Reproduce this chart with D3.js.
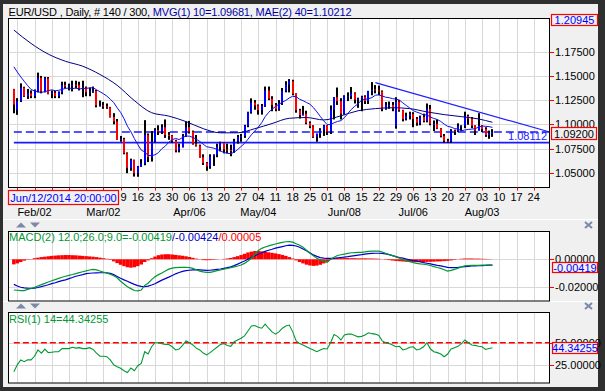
<!DOCTYPE html>
<html><head><meta charset="utf-8">
<script src="https://cdn.jsdelivr.net/npm/d3@7"></script>
<style>
body{margin:0;background:#fff}
svg{display:block}
text{font-family:"Liberation Sans",Arial,sans-serif;font-size:11px}
</style>
</head><body>
<svg id="c" width="605" height="391"></svg>
<script>
// ---------- DATA ----------
const opens  = [1.1363,1.1150,1.1240,1.1380,1.1290,1.1320,1.1290,1.1345,1.1480,1.1340,1.1475,1.1315,1.1325,1.1290,1.1330,1.1405,1.1390,1.1400,1.1410,1.1405,1.1370,1.1380,1.1330,1.1340,1.1345,1.1195,1.1195,1.1185,1.1175,1.1075,1.1030,1.0840,1.0850,1.0700,1.0550,1.0630,1.0495,1.0565,1.0595,1.0890,1.0660,1.0820,1.0940,1.0925,1.0970,1.0890,1.0885,1.0830,1.0730,1.0765,1.0880,1.0970,1.0925,1.0800,1.0780,1.0660,1.0600,1.0565,1.0670,1.0685,1.0765,1.0810,1.0740,1.0735,1.0725,1.0825,1.0870,1.0880,1.0985,1.1125,1.1225,1.1195,1.1145,1.1190,1.1350,1.1265,1.1200,1.1155,1.1215,1.1345,1.1410,1.1445,1.1315,1.1145,1.1095,1.1110,1.1015,1.0980,1.0870,1.0900,1.0940,1.0985,1.0925,1.1150,1.1280,1.1240,1.1110,1.1290,1.1290,1.1320,1.1255,1.1265,1.1285,1.1240,1.1345,1.1360,1.1350,1.1340,1.1160,1.1200,1.1200,1.0980,1.1235,1.1145,1.1055,1.1085,1.1105,1.1055,1.1015,1.1075,1.1035,1.1160,1.1005,1.1005,1.0955,1.0880,1.0830,1.0825,1.0935,1.0930,1.0980,1.0985,1.1085,1.1060,1.0985,1.0935,1.0985,1.0950,1.0890,1.0905];
const highs  = [1.1366,1.1270,1.1423,1.1388,1.1365,1.1350,1.1360,1.1534,1.1500,1.1490,1.1488,1.1350,1.1345,1.1340,1.1440,1.1440,1.1420,1.1450,1.1450,1.1440,1.1450,1.1390,1.1380,1.1390,1.1355,1.1245,1.1230,1.1215,1.1180,1.1115,1.1055,1.0880,1.0860,1.0710,1.0645,1.0635,1.0570,1.0640,1.1043,1.0905,1.0930,1.0960,1.0990,1.1000,1.1050,1.0920,1.0890,1.0840,1.0800,1.0900,1.1030,1.1035,1.0935,1.0890,1.0790,1.0690,1.0610,1.0690,1.0690,1.0800,1.0820,1.0815,1.0800,1.0790,1.0850,1.0890,1.0900,1.0995,1.1130,1.1268,1.1250,1.1205,1.1210,1.1390,1.1390,1.1290,1.1220,1.1250,1.1375,1.1445,1.1467,1.1460,1.1320,1.1160,1.1190,1.1140,1.1030,1.0990,1.0905,1.0960,1.0995,1.0990,1.1195,1.1280,1.1380,1.1270,1.1300,1.1330,1.1385,1.1330,1.1275,1.1295,1.1300,1.1345,1.1436,1.1405,1.1400,1.1350,1.1230,1.1235,1.1230,1.1280,1.1250,1.1150,1.1120,1.1130,1.1125,1.1075,1.1090,1.1110,1.1215,1.1200,1.1040,1.1050,1.0960,1.0900,1.0850,1.0950,1.0945,1.1010,1.0990,1.1130,1.1100,1.1075,1.0990,1.1115,1.0990,1.0970,1.0935,1.0950];
const lows   = [1.1114,1.1098,1.1230,1.1283,1.1262,1.1270,1.1270,1.1330,1.1320,1.1330,1.1310,1.1270,1.1270,1.1270,1.1310,1.1370,1.1350,1.1340,1.1370,1.1350,1.1280,1.1290,1.1290,1.1325,1.1175,1.1185,1.1160,1.1160,1.1070,1.1000,1.0840,1.0820,1.0690,1.0495,1.0520,1.0460,1.0458,1.0560,1.0577,1.0610,1.0615,1.0810,1.0890,1.0900,1.0860,1.0840,1.0810,1.0710,1.0710,1.0760,1.0870,1.0905,1.0790,1.0770,1.0655,1.0580,1.0520,1.0540,1.0570,1.0660,1.0720,1.0700,1.0700,1.0670,1.0705,1.0800,1.0820,1.0860,1.0970,1.1110,1.1150,1.1100,1.1100,1.1180,1.1250,1.1135,1.1135,1.1140,1.1200,1.1330,1.1330,1.1300,1.1120,1.1060,1.1090,1.1000,1.0960,1.0860,1.0820,1.0860,1.0880,1.0890,1.0900,1.1050,1.1200,1.1050,1.1100,1.1240,1.1260,1.1215,1.1170,1.1135,1.1210,1.1210,1.1300,1.1320,1.1300,1.1135,1.1150,1.1160,1.1135,1.0955,1.1130,1.1030,1.1040,1.1050,1.0970,1.0985,1.0990,1.1020,1.1020,1.0990,1.0930,1.0950,1.0865,1.0810,1.0808,1.0810,1.0890,1.0920,1.0930,1.0960,1.0995,1.0960,1.0890,1.0935,1.0920,1.0870,1.0850,1.0870];
const closes = [1.1204,1.1240,1.1380,1.1290,1.1320,1.1290,1.1345,1.1480,1.1340,1.1475,1.1315,1.1325,1.1290,1.1330,1.1405,1.1390,1.1400,1.1410,1.1405,1.1370,1.1380,1.1330,1.1340,1.1345,1.1195,1.1195,1.1185,1.1175,1.1075,1.1030,1.0840,1.0850,1.0700,1.0550,1.0630,1.0495,1.0565,1.0595,1.0890,1.0660,1.0820,1.0940,1.0925,1.0970,1.0890,1.0885,1.0830,1.0730,1.0765,1.0880,1.0970,1.0925,1.0800,1.0780,1.0660,1.0600,1.0565,1.0670,1.0685,1.0765,1.0810,1.0740,1.0735,1.0725,1.0825,1.0870,1.0880,1.0985,1.1125,1.1225,1.1195,1.1145,1.1190,1.1350,1.1265,1.1200,1.1155,1.1215,1.1345,1.1410,1.1445,1.1315,1.1145,1.1095,1.1110,1.1015,1.0980,1.0870,1.0900,1.0940,1.0985,1.0925,1.1150,1.1280,1.1240,1.1110,1.1290,1.1290,1.1320,1.1255,1.1265,1.1285,1.1240,1.1345,1.1360,1.1350,1.1340,1.1160,1.1200,1.1200,1.1165,1.1235,1.1145,1.1055,1.1085,1.1105,1.1055,1.1015,1.1075,1.1035,1.1160,1.1005,1.1005,1.0955,1.0880,1.0830,1.0825,1.0935,1.0930,1.0980,1.0985,1.1085,1.1060,1.0985,1.0935,1.0985,1.0950,1.0890,1.0905,1.0920];

const ma10 = [1.1595,1.1540,1.1490,1.1445,1.1400,1.1360,1.1345,1.1335,1.1330,1.1336,1.1348,1.1356,1.1347,1.1351,1.1360,1.1370,1.1375,1.1368,1.1375,1.1364,1.1371,1.1371,1.1376,1.1378,1.1357,1.1337,1.1316,1.1292,1.1259,1.1225,1.1171,1.1123,1.1059,1.0980,1.0923,1.0853,1.0791,1.0733,1.0715,1.0678,1.0676,1.0685,1.0707,1.0749,1.0775,1.0814,1.0841,1.0854,1.0842,1.0864,1.0879,1.0877,1.0865,1.0846,1.0823,1.0794,1.0768,1.0762,1.0754,1.0742,1.0726,1.0708,1.0701,1.0696,1.0712,1.0739,1.0771,1.0802,1.0846,1.0892,1.0931,1.0971,1.1017,1.1079,1.1123,1.1156,1.1184,1.1207,1.1229,1.1247,1.1272,1.1289,1.1285,1.1259,1.1244,1.1225,1.1208,1.1173,1.1129,1.1082,1.1036,1.0997,1.0997,1.1016,1.1029,1.1038,1.1069,1.1111,1.1153,1.1185,1.1213,1.1249,1.1258,1.1264,1.1276,1.1300,1.1305,1.1292,1.1280,1.1275,1.1265,1.1260,1.1250,1.1221,1.1194,1.1169,1.1141,1.1126,1.1114,1.1097,1.1097,1.1074,1.1060,1.1050,1.1029,1.1002,1.0979,1.0971,1.0956,1.0951,1.0933,1.0941,1.0947,1.0950,1.0955,1.0971,1.0983,1.0979,1.0976,1.0968];

const ma40Bars = [0,5,10,15,20,25,30,35,40,45,50,55,60,65,70,75,80,85,90,95,100,105,110,115,120,125,130,135,139];
const ma40     = [1.1974,1.1835,1.1725,1.1651,1.1600,1.1515,1.1403,1.1245,1.1120,1.1085,1.1028,1.0955,1.0912,1.0912,1.0955,1.1008,1.1062,1.1070,1.1045,1.1088,1.1140,1.1162,1.1171,1.1162,1.1128,1.1100,1.1079,1.1055,1.1021];

const macdLine = [-0.0224,-0.0226,-0.0228,-0.0228,-0.0220,-0.0213,-0.0205,-0.0195,-0.0185,-0.0176,-0.0166,-0.0157,-0.0148,-0.0139,-0.0131,-0.0124,-0.0117,-0.0111,-0.0104,-0.0097,-0.0091,-0.0085,-0.0078,-0.0073,-0.0077,-0.0085,-0.0094,-0.0101,-0.0109,-0.0120,-0.0135,-0.0160,-0.0180,-0.0200,-0.0214,-0.0228,-0.0231,-0.0224,-0.0190,-0.0175,-0.0148,-0.0128,-0.0112,-0.0100,-0.0086,-0.0072,-0.0064,-0.0061,-0.0059,-0.0059,-0.0058,-0.0061,-0.0066,-0.0076,-0.0086,-0.0092,-0.0095,-0.0095,-0.0090,-0.0083,-0.0078,-0.0072,-0.0067,-0.0061,-0.0055,-0.0049,-0.0042,-0.0030,-0.0012,0.0007,0.0035,0.0065,0.0080,0.0090,0.0098,0.0105,0.0112,0.0118,0.0123,0.0128,0.0129,0.0125,0.0114,0.0102,0.0088,0.0066,0.0045,0.0025,0.0007,-0.0004,-0.0013,-0.0022,0.0000,0.0015,0.0028,0.0033,0.0038,0.0043,0.0048,0.0049,0.0050,0.0051,0.0054,0.0058,0.0060,0.0060,0.0060,0.0053,0.0043,0.0035,0.0027,0.0018,0.0008,-0.0002,-0.0010,-0.0017,-0.0024,-0.0030,-0.0033,-0.0036,-0.0040,-0.0045,-0.0053,-0.0060,-0.0066,-0.0076,-0.0086,-0.0081,-0.0074,-0.0064,-0.0055,-0.0048,-0.0046,-0.0045,-0.0044,-0.0044,-0.0043,-0.0043,-0.0042,-0.00419];
const signalLine = [-0.0183,-0.0195,-0.0204,-0.0208,-0.0211,-0.0212,-0.0211,-0.0206,-0.0200,-0.0193,-0.0186,-0.0178,-0.0171,-0.0163,-0.0156,-0.0150,-0.0141,-0.0133,-0.0124,-0.0118,-0.0112,-0.0105,-0.0102,-0.0100,-0.0099,-0.0098,-0.0098,-0.0098,-0.0103,-0.0112,-0.0125,-0.0138,-0.0150,-0.0160,-0.0172,-0.0183,-0.0192,-0.0197,-0.0200,-0.0196,-0.0188,-0.0178,-0.0165,-0.0152,-0.0141,-0.0130,-0.0118,-0.0106,-0.0096,-0.0088,-0.0083,-0.0080,-0.0077,-0.0076,-0.0077,-0.0079,-0.0081,-0.0080,-0.0077,-0.0074,-0.0071,-0.0066,-0.0061,-0.0055,-0.0046,-0.0035,-0.0023,-0.0012,0.0000,0.0013,0.0026,0.0037,0.0048,0.0058,0.0066,0.0073,0.0081,0.0087,0.0093,0.0099,0.0104,0.0102,0.0097,0.0088,0.0075,0.0062,0.0047,0.0032,0.0021,0.0012,0.0008,0.0007,0.0007,0.0007,0.0010,0.0013,0.0016,0.0019,0.0023,0.0027,0.0031,0.0034,0.0038,0.0042,0.0043,0.0044,0.0044,0.0043,0.0039,0.0034,0.0027,0.0020,0.0013,0.0008,0.0002,-0.0004,-0.0009,-0.0013,-0.0018,-0.0024,-0.0029,-0.0034,-0.0039,-0.0044,-0.0048,-0.0054,-0.0059,-0.0061,-0.0061,-0.0059,-0.0056,-0.0053,-0.0051,-0.0049,-0.0048,-0.0047,-0.0046,-0.0045,-0.0043,-0.00424];
const macdHist = [-0.0037,-0.0030,-0.0020,-0.0010,-0.0003,0.0002,0.0008,0.0012,0.0016,0.0019,0.0022,0.0025,0.0027,0.0029,0.0030,0.0031,0.0031,0.0030,0.0029,0.0027,0.0025,0.0023,0.0021,0.0019,0.0016,0.0012,0.0008,0.0004,-0.0004,-0.0015,-0.0028,-0.0040,-0.0050,-0.0058,-0.0061,-0.0058,-0.0050,-0.0038,-0.0020,-0.0008,0.0008,0.0020,0.0030,0.0035,0.0037,0.0037,0.0035,0.0032,0.0029,0.0026,0.0022,0.0017,0.0011,0.0005,-0.0002,-0.0006,-0.0007,-0.0006,-0.0004,-0.0002,0.0000,0.0003,0.0006,0.0010,0.0016,0.0023,0.0031,0.0040,0.0050,0.0056,0.0060,0.0061,0.0058,0.0055,0.0051,0.0047,0.0043,0.0038,0.0032,0.0025,0.0016,0.0006,-0.0008,-0.0020,-0.0030,-0.0039,-0.0045,-0.0048,-0.0046,-0.0040,-0.0030,-0.0018,-0.0005,0.0004,0.0008,0.0009,0.0009,0.0009,0.0008,0.0008,0.0007,0.0007,0.0007,0.0006,0.0006,0.0005,0.0004,0.0001,-0.0003,-0.0006,-0.0009,-0.0012,-0.0014,-0.0016,-0.0018,-0.0019,-0.0020,-0.0021,-0.0021,-0.0020,-0.0019,-0.0018,-0.0017,-0.0016,-0.0015,-0.0013,-0.0011,-0.0008,-0.0004,0.0001,0.0004,0.0006,0.0006,0.0006,0.0005,0.0005,0.0004,0.0003,0.0002,0.00005];
const rsi = [18,25.5,31,29,31,31,35,42,38.5,43,39,39.5,40,40,43.5,43.5,43.5,45,44,44.5,43.5,43.5,44.5,42.5,38.5,35,35,34.5,31,25.5,23.5,21.8,19,17,22,19,24.5,27,40,37.5,45.5,50,50,49,48,48,45.5,42,43,47,52,50,47.5,44,42,38.5,36.5,39,42,45,48,49,47,46,51,53,55,57.5,63,68.5,69,67,66,70.5,66,62,59.5,62,66,68.5,69.5,62,52,49,47.5,45.5,43.5,42,40,42,43.5,43,50,59,57,53,58.5,59.5,59.5,58,56.5,57,58.5,61,60,59.5,58,52,50,49,47.5,45.5,46,42,43,45,45.5,42,43,45.5,50,43,40,39,37.5,34.5,37.5,43,44.5,46,49,53,50,47.5,47,46,45.5,42.5,43.5,44.34255];

const priceTicks = [1.05,1.075,1.10,1.125,1.15,1.175];
const macdTicks  = [0,-0.02];
const rsiTicks   = [50,25];
const weekLabels = ["26","02","09","16","23","02","09","16","23","30","06","13","20","27","04","11","18","25","01","08","15","22","29","06","13","20","27","03","10","17","24"];
const monthLabels = ["Feb/02","Mar/02","Apr/06","May/04","Jun/08","Jul/06","Aug/03"];
const monthWeeks  = [1,5,10,14,19,23,27];
const trendBars = [105,155.4];
const trendVals = [1.1430,1.0923];
const supportLevel = 1.08112;
const lastPrice = 1.0920;
const topPrice = 1.20945;
const cursorLabel = 'Jun/12/2014 20:00:00';

// ---------- LAYOUT ----------
const W = 605, H = 391;
const L = 8, R = 549;
const svg = d3.select('#c');
const N = closes.length;
const x = d3.scaleLinear().domain([-1.7, 155.44]).range([L, R]);
const yP = d3.scaleLinear().domain([1.05, 1.175]).range([172.7, 51.7]);
const yM = d3.scaleLinear().domain([-0.02, 0]).range([286.7, 259.3]);
const yR = d3.scaleLinear().domain([25, 50]).range([365.3, 342.7]);
const panels = {
  main: {t: 18.5, b: 187.5},
  macd: {t: 231.5, b: 301},
  rsi:  {t: 312.5, b: 383}
};
const weekIdx = weekLabels.map((d, k) => 1 + 5 * k);

svg.append('rect').attr('width', W).attr('height', H).attr('fill', '#2f2f2f');
svg.append('rect').attr('x', 3).attr('y', 4).attr('width', 595).attr('height', 383).attr('fill', '#f0f0f0');
[219.5, 301.5].forEach(a => {
  svg.append('line').attr('x1', 3).attr('x2', 598).attr('y1', a).attr('y2', a).attr('stroke', '#ffffff');
});

const defs = svg.append('defs');
Object.entries(panels).forEach(([k, p]) => {
  defs.append('clipPath').attr('id', 'clip-' + k).append('rect')
    .attr('x', L).attr('y', p.t).attr('width', R - L).attr('height', p.b - p.t);
  svg.append('rect').attr('x', L + 0.5).attr('y', p.t).attr('width', R - L - 0.5).attr('height', p.b - p.t).attr('fill', '#fff');
});

function vgrid(p) {
  svg.append('g').selectAll('line').data(weekIdx).join('line')
    .attr('x1', d => Math.round(x(d)) + 0.5).attr('x2', d => Math.round(x(d)) + 0.5)
    .attr('y1', p.t).attr('y2', p.b).attr('stroke', '#d8d8d8');
}
function hgrid(p, ticks, sc) {
  svg.append('g').selectAll('line').data(ticks).join('line')
    .attr('x1', L).attr('x2', R).attr('y1', d => Math.round(sc(d)) + 0.5).attr('y2', d => Math.round(sc(d)) + 0.5)
    .attr('stroke', '#d8d8d8');
}
vgrid(panels.main); hgrid(panels.main, priceTicks, yP);
vgrid(panels.macd); hgrid(panels.macd, macdTicks, yM);
vgrid(panels.rsi);  hgrid(panels.rsi, rsiTicks, yR);

// ---------- MAIN PANEL ----------
const gm = svg.append('g').attr('clip-path', 'url(#clip-main)');
gm.append('line').attr('x1', x(0)).attr('x2', R).attr('y1', yP(lastPrice)).attr('y2', yP(lastPrice))
  .attr('stroke', '#1a1aff').attr('stroke-width', 1.6).attr('stroke-dasharray', '8,4');
gm.append('line').attr('x1', x(0)).attr('x2', R).attr('y1', yP(supportLevel)).attr('y2', yP(supportLevel))
  .attr('stroke', '#1a1aff').attr('stroke-width', 1.6);
gm.append('line').attr('x1', x(trendBars[0])).attr('x2', x(trendBars[1]))
  .attr('y1', yP(trendVals[0])).attr('y2', yP(trendVals[1])).attr('stroke', '#2020ff').attr('stroke-width', 1.2);
const idx = d3.range(N);
gm.append('g').selectAll('rect').data(idx).join('rect')
  .attr('x', i => Math.round(x(i)) - 1).attr('width', 2)
  .attr('y', i => yP(highs[i])).attr('height', i => Math.max(1, yP(lows[i]) - yP(highs[i])))
  .attr('fill', '#000');
gm.append('g').selectAll('rect').data(idx).join('rect')
  .attr('x', i => Math.round(x(i)) - 1).attr('width', 2)
  .attr('y', i => yP(Math.max(opens[i], closes[i])))
  .attr('height', i => Math.max(1, Math.abs(yP(opens[i]) - yP(closes[i]))))
  .attr('fill', i => closes[i] >= opens[i] ? '#0000ff' : '#ff0000');
gm.append('path').datum(ma40Bars.map((b, k) => [b, ma40[k]]))
  .attr('d', d3.line().x(d => x(d[0])).y(d => yP(d[1])).curve(d3.curveMonotoneX))
  .attr('fill', 'none').attr('stroke', '#000080').attr('stroke-width', 1);
gm.append('path').datum(idx)
  .attr('d', d3.line().x(i => x(i)).y(i => yP(ma10[i])))
  .attr('fill', 'none').attr('stroke', '#1010e0').attr('stroke-width', 1);

// ---------- MACD PANEL ----------
const gd = svg.append('g').attr('clip-path', 'url(#clip-macd)');
gd.append('g').selectAll('rect').data(idx).join('rect')
  .attr('x', i => x(i) - 1.75).attr('width', 3.5)
  .attr('y', i => Math.min(yM(0), yM(macdHist[i])))
  .attr('height', i => Math.abs(yM(macdHist[i]) - yM(0)))
  .attr('fill', '#ff0000');
gd.append('path').datum(idx).attr('d', d3.line().x(i => x(i)).y(i => yM(signalLine[i])))
  .attr('fill', 'none').attr('stroke', '#0000cc').attr('stroke-width', 1.2);
gd.append('path').datum(idx).attr('d', d3.line().x(i => x(i)).y(i => yM(macdLine[i])))
  .attr('fill', 'none').attr('stroke', '#009933').attr('stroke-width', 1.2);

// ---------- RSI PANEL ----------
const gr = svg.append('g').attr('clip-path', 'url(#clip-rsi)');
gr.append('line').attr('x1', x(0)).attr('x2', R).attr('y1', yR(50)).attr('y2', yR(50))
  .attr('stroke', '#ff0000').attr('stroke-width', 1.4).attr('stroke-dasharray', '6,3');
gr.append('path').datum(idx).attr('d', d3.line().x(i => x(i)).y(i => yR(rsi[i])))
  .attr('fill', 'none').attr('stroke', '#009933').attr('stroke-width', 1.1);

Object.values(panels).forEach(p => {
  svg.append('rect').attr('x', L + 0.5).attr('y', p.t).attr('width', R - L).attr('height', p.b - p.t)
    .attr('fill', 'none').attr('stroke', '#000');
});

// ---------- AXES ----------
function yAxisLabels(ticks, sc, fmt) {
  const g = svg.append('g');
  g.selectAll('line').data(ticks).join('line')
    .attr('x1', R + 0.5).attr('x2', R + 5).attr('y1', d => Math.round(sc(d)) + 0.5).attr('y2', d => Math.round(sc(d)) + 0.5)
    .attr('stroke', '#ff0000');
  g.selectAll('text').data(ticks).join('text')
    .attr('x', 555).attr('y', d => sc(d) + 4).text(fmt).attr('fill', '#000');
}
yAxisLabels(priceTicks, yP, d => d.toFixed(5));
yAxisLabels(macdTicks, yM, d => d.toFixed(5));
yAxisLabels(rsiTicks, yR, d => d.toFixed(5));

svg.append('g').selectAll('line').data(weekIdx).join('line')
  .attr('x1', d => Math.round(x(d)) + 0.5).attr('x2', d => Math.round(x(d)) + 0.5)
  .attr('y1', panels.main.b).attr('y2', panels.main.b + 3).attr('stroke', '#ff0000');

const boxRight = 118.5, halfW = 6.1;
const dayG = svg.append('g');
weekLabels.forEach((lab, k) => {
  const cx = x(weekIdx[k]);
  if (cx + halfW <= boxRight) return;
  if (cx - halfW < boxRight) {
    dayG.append('text').attr('x', cx + halfW).attr('y', 201).attr('text-anchor', 'end').text(lab.slice(1));
  } else {
    dayG.append('text').attr('x', cx).attr('y', 201).attr('text-anchor', 'middle').text(lab);
  }
});
svg.append('g').selectAll('text').data(monthLabels).join('text')
  .attr('x', (d, k) => x(1 + 5 * monthWeeks[k])).attr('y', 216).attr('text-anchor', 'middle').text(d => d);

function box(x0, yc, w, h, txt, color) {
  svg.append('rect').attr('x', x0 + 0.5).attr('y', Math.round(yc - h / 2) + 0.5).attr('width', w).attr('height', h)
    .attr('fill', '#f0f0f0').attr('stroke', '#ff0000').attr('stroke-width', 1.2);
  svg.append('text').attr('x', x0 + w / 2 + 0.5).attr('y', Math.round(yc - h / 2) + h / 2 + 4.5)
    .attr('text-anchor', 'middle').attr('fill', color).text(txt);
}
box(551, 19.5, 46, 11, topPrice.toFixed(5), '#0000ff');
box(551, yP(lastPrice) + 0.5, 45, 12, lastPrice.toFixed(5), '#000');
box(552, yM(macdLine[N - 1]) + 2, 45, 10, macdLine[N - 1].toFixed(5), '#0000ff');
box(552, yR(rsi[N - 1]), 45, 11, rsi[N - 1].toFixed(5), '#0000ff');
box(8, 196.5, 110, 14, cursorLabel, '#0000ff');

svg.append('text').attr('x', 547).attr('y', yP(supportLevel) - 2.5).attr('text-anchor', 'end')
  .attr('fill', '#1a1aff').text(supportLevel.toFixed(5));

const t1 = svg.append('text').attr('x', 8.5).attr('y', 16).attr('textLength', 343).attr('lengthAdjust', 'spacing');
t1.append('tspan').attr('fill', '#000').text('EUR/USD , Daily, # 140 / 300, ');
t1.append('tspan').attr('fill', '#0000a8').text('MVG(1) 10=1.09681, MAE(2) 40=1.10212');
const t2 = svg.append('text').attr('x', 9).attr('y', 241);
t2.append('tspan').attr('fill', '#009933').text('MACD(2) 12.0;26.0;9.0=' + macdLine[N - 1].toFixed(5));
t2.append('tspan').attr('fill', '#0000cc').text('/' + signalLine[N - 1].toFixed(5));
t2.append('tspan').attr('fill', '#ff0000').text('/' + macdHist[N - 1].toFixed(5));
svg.append('text').attr('x', 9).attr('y', 322.5).attr('fill', '#009933').text('RSI(1) 14=' + rsi[N - 1].toFixed(5));

[225, 306].forEach(yc => {
  svg.append('path').attr('d', `M16,${yc + 2.5} L21,${yc - 2.5} L26,${yc + 2.5} Z`).attr('fill', '#7b88aa');
  svg.append('path').attr('d', `M30,${yc - 2.5} L35,${yc + 2.5} L40,${yc - 2.5} Z`).attr('fill', '#7b88aa');
  svg.append('path').attr('d', `M585,${yc - 3} L592,${yc + 3} M592,${yc - 3} L585,${yc + 3}`)
    .attr('stroke', '#7b88aa').attr('stroke-width', 2);
});
</script>
</body></html>
